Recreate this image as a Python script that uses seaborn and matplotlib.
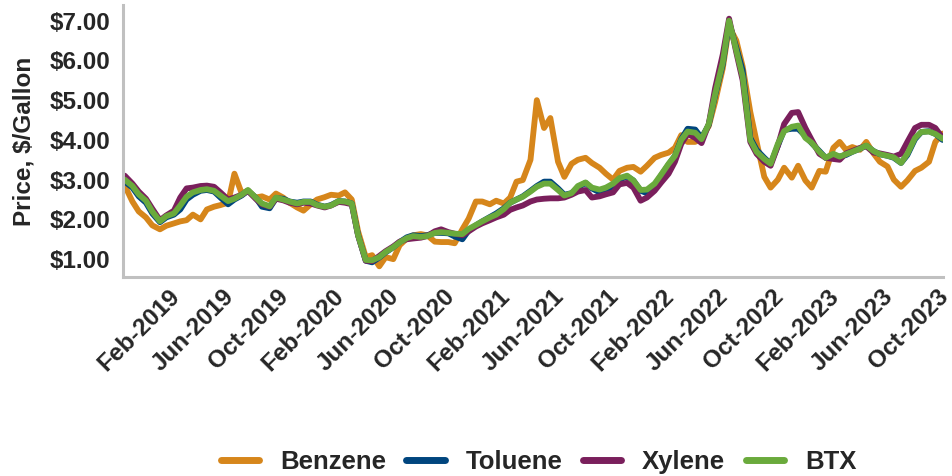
import pandas as pd
import matplotlib
matplotlib.use("Agg")
import matplotlib.pyplot as plt
import matplotlib.dates as mdates
import matplotlib.transforms as mtransforms
from matplotlib.ticker import FuncFormatter
import seaborn as sns

# semi-monthly readings, Oct 2018 - Oct 2023
dates = pd.date_range("2018-10-15", "2023-10-01", freq="SMS")

benzene = [
    2.85, 2.45, 2.20, 2.05, 1.85, 1.75, 1.84, 1.90, 1.95, 1.98, 2.12, 2.00,
    2.25, 2.32, 2.36, 2.42, 3.15, 2.66, 2.72, 2.55, 2.58, 2.50, 2.65, 2.55,
    2.42, 2.30, 2.22, 2.38, 2.50, 2.56, 2.62, 2.60, 2.68, 2.50, 1.70, 1.05,
    1.10, 0.82, 1.05, 1.00, 1.35, 1.52, 1.60, 1.63, 1.60, 1.44, 1.43, 1.43,
    1.40, 1.75, 2.02, 2.45, 2.45, 2.38, 2.47, 2.40, 2.55, 2.95, 2.99, 3.50,
    5.00, 4.30, 4.55, 3.45, 3.07, 3.40, 3.50, 3.55, 3.42, 3.30, 3.15, 3.00,
    3.22, 3.30, 3.32, 3.20, 3.35, 3.55, 3.62, 3.68, 3.80, 4.12, 3.95, 3.95,
    4.05, 4.35, 4.95, 5.80, 6.85, 6.50, 5.85, 4.70, 3.95, 3.07, 2.80, 3.00,
    3.30, 3.05, 3.35, 2.98, 2.80, 3.22, 3.20, 3.80, 3.95, 3.75, 3.82, 3.75,
    3.95, 3.66, 3.45, 3.33, 3.00, 2.82, 2.98, 3.22, 3.30, 3.45, 3.95, 4.16,
]

toluene = [
    2.95, 2.80, 2.58, 2.42, 2.15, 1.93, 2.05, 2.12, 2.25, 2.50, 2.62, 2.72,
    2.74, 2.70, 2.55, 2.38, 2.50, 2.60, 2.72, 2.55, 2.32, 2.28, 2.53, 2.52,
    2.45, 2.42, 2.45, 2.45, 2.37, 2.32, 2.36, 2.46, 2.45, 2.40, 1.60, 0.96,
    0.92, 1.04, 1.17, 1.30, 1.43, 1.55, 1.60, 1.58, 1.60, 1.66, 1.66, 1.65,
    1.57, 1.50, 1.72, 1.85, 1.95, 2.06, 2.15, 2.28, 2.42, 2.50, 2.58, 2.72,
    2.84, 2.95, 2.95, 2.78, 2.62, 2.66, 2.80, 2.92, 2.78, 2.68, 2.65, 2.82,
    3.00, 3.08, 2.98, 2.72, 2.66, 2.85, 3.10, 3.38, 3.60, 4.02, 4.28, 4.26,
    4.05, 4.38, 5.12, 5.90, 6.95, 6.32, 5.75, 4.05, 3.75, 3.55, 3.40, 3.85,
    4.25, 4.28, 4.28, 4.10, 3.92, 3.72, 3.55, 3.62, 3.58, 3.62, 3.70, 3.78,
    3.85, 3.72, 3.64, 3.60, 3.55, 3.42, 3.62, 4.02, 4.20, 4.22, 4.15, 4.00,
]

xylene = [
    3.10, 2.90, 2.70, 2.52, 2.27, 1.98, 2.10, 2.22, 2.55, 2.78, 2.80, 2.84,
    2.85, 2.82, 2.68, 2.50, 2.55, 2.62, 2.72, 2.52, 2.38, 2.32, 2.52, 2.48,
    2.42, 2.38, 2.42, 2.40, 2.35, 2.30, 2.35, 2.44, 2.42, 2.38, 1.60, 0.96,
    0.95, 1.08, 1.20, 1.32, 1.44, 1.50, 1.52, 1.54, 1.58, 1.70, 1.75, 1.68,
    1.64, 1.60, 1.70, 1.82, 1.90, 1.98, 2.05, 2.12, 2.24, 2.30, 2.35, 2.45,
    2.50, 2.52, 2.53, 2.53, 2.55, 2.62, 2.70, 2.74, 2.55, 2.58, 2.63, 2.68,
    2.88, 2.92, 2.80, 2.47, 2.55, 2.72, 2.92, 3.15, 3.45, 3.90, 4.15, 4.05,
    3.92, 4.40, 5.30, 6.15, 7.05, 6.20, 5.50, 3.95, 3.65, 3.45, 3.35, 3.85,
    4.40, 4.68, 4.70, 4.30, 4.00, 3.65, 3.55, 3.52, 3.50, 3.66, 3.72, 3.80,
    3.84, 3.68, 3.66, 3.62, 3.58, 3.65, 3.95, 4.30, 4.38, 4.38, 4.30, 4.05,
]

btx = [
    3.00, 2.84, 2.63, 2.47, 2.20, 1.95, 2.08, 2.15, 2.35, 2.57, 2.68, 2.74,
    2.76, 2.72, 2.60, 2.46, 2.52, 2.62, 2.74, 2.55, 2.40, 2.33, 2.55, 2.50,
    2.45, 2.40, 2.44, 2.44, 2.36, 2.32, 2.35, 2.46, 2.45, 2.40, 1.60, 0.98,
    0.97, 1.05, 1.18, 1.30, 1.42, 1.53, 1.58, 1.56, 1.58, 1.66, 1.68, 1.66,
    1.64, 1.63, 1.76, 1.86, 1.95, 2.05, 2.12, 2.26, 2.42, 2.50, 2.57, 2.70,
    2.82, 2.90, 2.90, 2.74, 2.60, 2.66, 2.84, 2.93, 2.80, 2.75, 2.80, 2.90,
    3.04, 3.10, 2.98, 2.74, 2.75, 2.90, 3.12, 3.40, 3.60, 4.00, 4.21, 4.18,
    4.02, 4.40, 5.15, 5.95, 7.00, 6.25, 5.60, 4.00, 3.70, 3.52, 3.40, 3.90,
    4.22, 4.33, 4.36, 4.05, 3.93, 3.70, 3.55, 3.65, 3.58, 3.64, 3.70, 3.78,
    3.86, 3.72, 3.64, 3.60, 3.56, 3.42, 3.65, 4.05, 4.20, 4.21, 4.15, 4.03,
]

products = ["Benzene", "Toluene", "Xylene", "BTX"]
colors = ["#D6861B", "#00457E", "#7A1F5C", "#6AAA3C"]

df = pd.DataFrame({"Date": dates, "Benzene": benzene, "Toluene": toluene,
                   "Xylene": xylene, "BTX": btx})
df = df.melt(id_vars="Date", var_name="Product", value_name="Price")

sns.set_style("white")
plt.rcParams["font.family"] = ["Liberation Sans", "DejaVu Sans"]
plt.rcParams["font.weight"] = "bold"
plt.rcParams["axes.labelweight"] = "bold"

fig, ax = plt.subplots(figsize=(9.53, 4.76), dpi=100)
fig.subplots_adjust(left=0.129, right=0.99, bottom=0.418, top=0.99)

sns.lineplot(data=df, x="Date", y="Price", hue="Product", hue_order=products,
             palette=colors, linewidth=4.2, ax=ax, legend=False)

ax.set_xlim(pd.Timestamp("2018-10-11"), pd.Timestamp("2023-10-03"))
ax.set_ylim(0.55, 7.4)
ax.set_yticks([1, 2, 3, 4, 5, 6, 7])
ax.yaxis.set_major_formatter(FuncFormatter(lambda v, p: f"${v:.2f}"))
ax.xaxis.set_major_locator(mdates.MonthLocator(bymonth=[2, 6, 10]))
ax.xaxis.set_major_formatter(mdates.DateFormatter("%b-%Y"))

ax.set_xlabel("")
ax.set_ylabel("Price, $/Gallon", fontsize=17.5, fontweight="bold", labelpad=10)

for s in ["top", "right"]:
    ax.spines[s].set_visible(False)
for s in ["left", "bottom"]:
    ax.spines[s].set_color("#C0C0C0")
    ax.spines[s].set_linewidth(2.2)

ax.tick_params(axis="both", which="major", direction="out", color="#404040",
               length=5, width=1.5, labelsize=17.5, pad=4)

# rotated date labels, nudged up-left so their top-right corner sits under the tick
shift = mtransforms.ScaledTranslation(-6 / 100, 5 / 100, fig.dpi_scale_trans)
for lab in ax.get_xticklabels():
    lab.set_rotation(45)
    lab.set_ha("right")
    lab.set_rotation_mode("anchor")
    lab.set_fontweight("bold")
    lab.set_transform(lab.get_transform() + shift)
plt.setp(ax.get_yticklabels(), fontweight="bold")

handles = [plt.Line2D([], [], color=c, linewidth=5) for c in colors]
fig.legend(handles, products, loc="center", bbox_to_anchor=(0.565, 0.03),
           ncol=4, frameon=False, handlelength=1.5,
           columnspacing=0.8, handletextpad=0.8,
           prop={"weight": "bold", "size": 18.5})

plt.savefig("out.png", dpi=100)
